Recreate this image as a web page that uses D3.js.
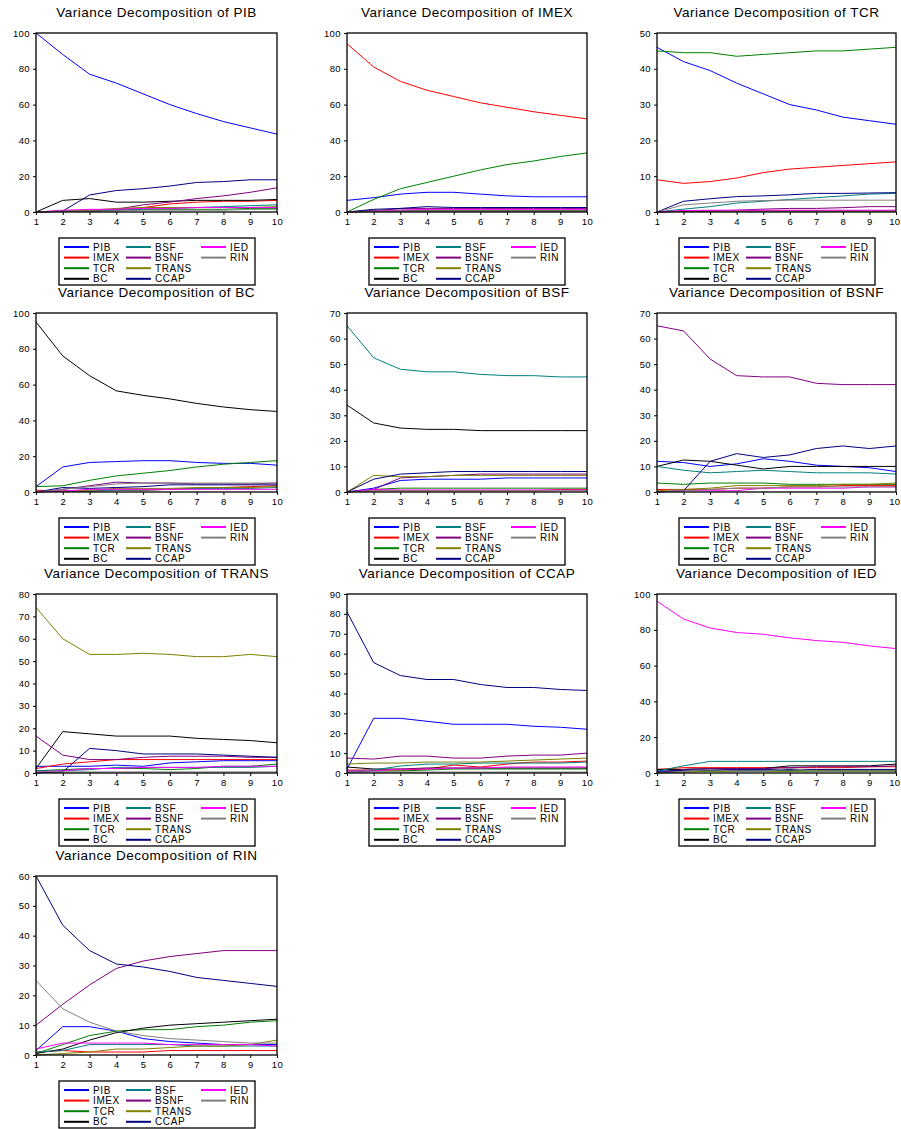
<!DOCTYPE html>
<html>
<head>
<meta charset="utf-8">
<script src="https://cdn.jsdelivr.net/npm/d3@7"></script>
<style>
  body { margin: 0; background: #fff; }
  text { font-family: "Liberation Sans", Arial, sans-serif; fill: #000; }
</style>
</head>
<body>
<div id="chart"></div>
<script>
// Horizontes y variables
const horizons = [1, 2, 3, 4, 5, 6, 7, 8, 9, 10];
const shocks = ["PIB", "IMEX", "TCR", "BC", "BSF", "BSNF", "TRANS", "CCAP", "IED", "RIN"];
const shockColors = ["#0000ff", "#ff0000", "#008000", "#000000", "#008080",
                     "#800080", "#808000", "#000080", "#ff00ff", "#808080"];
const responses = ["PIB", "IMEX", "TCR", "BC", "BSF", "BSNF", "TRANS", "CCAP", "IED", "RIN"];

// Marcas del eje Y de cada panel
const yTicks = [
  [0, 20, 40, 60, 80, 100],
  [0, 20, 40, 60, 80, 100],
  [0, 10, 20, 30, 40, 50],
  [0, 20, 40, 60, 80, 100],
  [0, 10, 20, 30, 40, 50, 60, 70],
  [0, 10, 20, 30, 40, 50, 60, 70],
  [0, 10, 20, 30, 40, 50, 60, 70, 80],
  [0, 10, 20, 30, 40, 50, 60, 70, 80, 90],
  [0, 20, 40, 60, 80, 100],
  [0, 10, 20, 30, 40, 50, 60]
];

// Descomposición de varianza (filas en el orden de "shocks")
const vdPIB = [
  [100, 88, 77, 72, 66, 60, 55, 50.5, 47, 43.5],
  [0, 0.3, 0.5, 1, 2.5, 4.5, 5.5, 6, 6, 6.5],
  [0, 0.5, 1, 1.5, 1.5, 1.5, 1.5, 1.5, 2, 2],
  [0, 6.5, 7.5, 5.5, 5.5, 6, 6.5, 6.5, 6.5, 7],
  [0, 0.3, 0.5, 1, 1.5, 2, 2.5, 3, 3.5, 4],
  [0, 0.5, 1, 1.5, 4, 5.5, 7.5, 9, 11, 13.5],
  [0, 0.5, 1, 2, 2.5, 2.5, 2.5, 2.5, 2.5, 3],
  [0, 0.5, 9.5, 12, 13, 14.5, 16.5, 17, 18, 18],
  [0, 1, 1.5, 1.5, 2, 2, 2.5, 2.5, 2.5, 2.5],
  [0, 0.5, 0.5, 0.5, 1, 1, 1, 1, 1.5, 1.5]
];
const vdIMEX = [
  [6.5, 8, 10, 11, 11, 10, 9, 8.5, 8.5, 8.5],
  [94, 81, 73, 68, 64.5, 61, 58.5, 56, 54, 52],
  [0, 7, 13, 16.5, 20, 23.5, 26.5, 28.5, 31, 33],
  [0, 1, 1, 1, 1, 1, 1, 1, 1, 1],
  [0, 0.3, 0.5, 0.5, 0.5, 0.5, 0.5, 0.5, 0.5, 0.5],
  [0, 0.5, 2, 2, 2, 2, 2, 2, 2, 2],
  [0, 0.3, 0.5, 0.5, 0.5, 0.5, 0.5, 0.5, 0.5, 0.5],
  [0, 1.5, 2, 3, 2.5, 2.5, 2.5, 2.5, 2.5, 2.5],
  [0, 0.5, 1, 1.5, 1.5, 1.5, 1.5, 1.5, 1.5, 1.5],
  [0, 0.5, 0.5, 0.5, 0.5, 0.5, 0.5, 0.5, 0.5, 0.5]
];
const vdTCR = [
  [46, 42, 39.5, 36, 33, 30, 28.5, 26.5, 25.5, 24.5],
  [9, 8, 8.5, 9.5, 11, 12, 12.5, 13, 13.5, 14],
  [45, 44.5, 44.5, 43.5, 44, 44.5, 45, 45, 45.5, 46],
  [0, 0.2, 0.3, 0.3, 0.3, 0.3, 0.3, 0.3, 0.3, 0.3],
  [0, 0.8, 1.5, 2.5, 3, 3.5, 4, 4.5, 5, 5.2],
  [0, 0.3, 0.3, 0.5, 0.8, 1, 1, 1.2, 1.5, 1.5],
  [0, 0.2, 0.3, 0.3, 0.3, 0.3, 0.3, 0.3, 0.3, 0.3],
  [0, 3, 3.7, 4.3, 4.5, 4.8, 5.2, 5.2, 5.3, 5.4],
  [0, 0.4, 0.5, 0.5, 0.5, 0.5, 0.5, 0.5, 0.5, 0.5],
  [0, 2, 2.5, 3, 3.2, 3.3, 3.3, 3.3, 3.3, 3.3]
];
const vdBC = [
  [3, 14, 16.5, 17, 17.5, 17.5, 16.5, 16, 16, 15],
  [1, 0.5, 0.5, 1, 1, 1.5, 2, 2.5, 3, 3.5],
  [3, 3.5, 6.5, 9, 10.5, 12, 14, 15.5, 16.5, 17.5],
  [95, 76, 65, 56.5, 54, 52, 49.5, 47.5, 46, 45],
  [0, 0.5, 0.5, 1, 1, 1.5, 2, 2, 2, 2.5],
  [0, 1.5, 3.5, 5.5, 5, 5, 4.5, 4.5, 4.5, 5],
  [0, 0.5, 1, 2, 2, 2, 2.5, 2.5, 2.5, 3],
  [0, 2.5, 2, 2.5, 3, 4, 4, 4, 4, 4],
  [0, 0.5, 1.5, 1.5, 1.5, 1.5, 1.5, 1.5, 1.5, 1.5],
  [0, 1.5, 3, 4.5, 5, 5, 5, 5, 5, 5]
];
const vdBSF = [
  [0, 1.5, 4.5, 5, 5, 5, 5.5, 5.5, 5.5, 5.5],
  [0, 0.5, 0.5, 0.5, 0.5, 0.5, 0.5, 0.5, 1, 1],
  [0, 1, 1.5, 1.5, 1.5, 1.5, 1.5, 1.5, 1.5, 1.5],
  [34, 27, 25, 24.5, 24.5, 24, 24, 24, 24, 24],
  [65, 52.5, 48, 47, 47, 46, 45.5, 45.5, 45, 45],
  [0, 1, 5.5, 6, 6.5, 7, 7, 7, 7, 7],
  [0, 6.5, 6, 6, 6.5, 6.5, 6.5, 6.5, 6.5, 6.5],
  [0, 5, 7, 7.5, 8, 8, 8, 8, 8, 8],
  [0, 1, 0.8, 0.8, 0.8, 0.8, 0.8, 0.8, 0.8, 0.8],
  [0, 0.5, 0.5, 0.5, 0.5, 0.5, 0.5, 0.5, 0.5, 0.5]
];
const vdBSNF = [
  [12, 11.5, 10, 11, 13, 12, 10.5, 10, 9.5, 8],
  [1, 1, 1, 1.5, 1.5, 2, 2, 2.5, 2.5, 2.5],
  [3.5, 3, 3.5, 3.5, 3.5, 3, 3, 3, 3, 3],
  [10, 12.5, 12, 10.5, 9, 10, 10, 10, 10, 10],
  [10, 8.5, 7.5, 8, 8.5, 8, 7.5, 7.5, 7.5, 7],
  [65, 63, 52, 45.5, 45, 45, 42.5, 42, 42, 42],
  [0.5, 1, 1.5, 2.5, 2.5, 2.5, 2.5, 3, 3, 3.5],
  [0, 0.5, 12, 15, 13.5, 14.5, 17, 18, 17, 18],
  [0, 0.5, 0.5, 0.5, 1.5, 1.5, 1.5, 1.5, 2, 2],
  [0, 0.5, 1, 1.5, 1.5, 2, 2, 2, 2, 2]
];
const vdTRANS = [
  [3, 3, 3, 3.5, 3, 4.5, 5, 5.5, 5.5, 5.5],
  [2, 4, 5, 6, 6, 6, 6, 6, 6, 6],
  [1, 1.5, 2, 2, 2, 1.5, 2, 3, 3, 4],
  [2, 18.5, 17.5, 16.5, 16.5, 16.5, 15.5, 15, 14.5, 13.5],
  [1, 1, 1.5, 2.5, 2.5, 2.5, 2.5, 2.5, 2.5, 3],
  [16.5, 8, 6, 6, 7, 7.5, 7.5, 7.5, 7, 7],
  [74, 60, 53, 53, 53.5, 53, 52, 52, 53, 52],
  [0, 0.5, 11, 10, 8.5, 8.5, 8.5, 8, 7.5, 7],
  [0.5, 1, 2, 2, 2.5, 2.5, 2.5, 3, 3, 3],
  [0.5, 0.5, 0.5, 0.5, 0.5, 0.5, 0.5, 0.5, 0.5, 0.5]
];
const vdCCAP = [
  [2, 27.5, 27.5, 26, 24.5, 24.5, 24.5, 23.5, 23, 22],
  [1.5, 1.5, 1.5, 2, 4, 3, 4.5, 5.5, 5.5, 6],
  [0.5, 1, 1, 1.5, 2, 2, 2, 2, 2, 2],
  [3, 2, 2, 2.5, 2.5, 2.5, 2.5, 2.5, 2.5, 2.5],
  [1, 1.5, 3.5, 4.5, 4.5, 5, 5, 5, 5, 5.5],
  [7.5, 7, 8.5, 8.5, 7.5, 7.5, 8.5, 9, 9, 10],
  [4.5, 5, 5, 5.5, 5.5, 5.5, 6, 6.5, 7, 7.5],
  [81, 55.5, 49, 47, 47, 44.5, 43, 43, 42, 41.5],
  [1, 1, 2, 2, 2.5, 2.5, 3, 3, 3, 3],
  [0.3, 0.5, 0.5, 0.5, 0.5, 0.5, 0.5, 0.5, 0.5, 0.5]
];
const vdIED = [
  [0.5, 1, 1.5, 1.5, 1.5, 1.5, 1.5, 1.5, 1.5, 1.5],
  [2, 3, 3, 3, 3, 3, 3, 3, 3.5, 3.5],
  [2, 1.5, 1, 1, 1, 1, 1, 1, 1, 1],
  [2, 2, 2.5, 2.5, 2.5, 4, 4, 4, 4, 5],
  [1, 4, 6.5, 6.5, 6.5, 6.5, 6.5, 6.5, 6.5, 6.5],
  [0, 2, 2.5, 2.5, 2.5, 3, 3.5, 3.5, 3.5, 4],
  [0, 0.5, 1, 1, 1, 1, 1.5, 1.5, 1.5, 1.5],
  [1, 1.5, 2, 2, 2, 2, 2, 2, 2, 2],
  [96, 86, 81, 78.5, 77.5, 75.5, 74, 73, 71, 69.5],
  [0, 1, 2, 1, 1, 2.5, 1, 1, 1, 1]
];
const vdRIN = [
  [1.5, 9.5, 9.5, 8, 5.5, 4.5, 4, 3.5, 3.5, 3.5],
  [1, 1.5, 1, 1, 1, 1.5, 1.5, 1.5, 1.5, 1.5],
  [0.5, 3.5, 6.5, 8, 8.5, 8.5, 9.5, 10, 11, 11.5],
  [0.5, 2, 5, 7.5, 9, 10, 10.5, 11, 11.5, 12],
  [1, 1.5, 3.5, 3.5, 3.5, 3.5, 3, 3, 3, 3],
  [10, 17, 23.5, 29, 31.5, 33, 34, 35, 35, 35],
  [0, 0.5, 1, 2, 2, 2.5, 3, 3, 3.5, 5],
  [60, 43.5, 35, 30.5, 29.5, 28, 26, 25, 24, 23],
  [2, 4, 4, 4, 4, 3.5, 3.5, 3.5, 3.5, 3],
  [25, 15.5, 11, 8, 6.5, 5.5, 5, 4.5, 4, 4]
];
const panels = [vdPIB, vdIMEX, vdTCR, vdBC, vdBSF, vdBSNF, vdTRANS, vdCCAP, vdIED, vdRIN];

// Disposición de la cuadrícula
const colLeft = [36, 347, 657];
const colRight = [277, 587, 896];
const rowTop = [33, 313, 594, 876];
const plotH = 179;

const svg = d3.select("#chart")
  .append("svg")
  .attr("width", 901)
  .attr("height", 1129);

responses.forEach((name, p) => {
  const col = p % 3, row = Math.floor(p / 3);
  const left = colLeft[col], right = colRight[col];
  const top = rowTop[row], bottom = top + plotH;
  const ticks = yTicks[p];

  const x = d3.scaleLinear().domain([1, 10]).range([left, right]);
  const y = d3.scaleLinear().domain([0, d3.max(ticks)]).range([bottom, top]);

  const g = svg.append("g");

  // Título
  g.append("text")
    .attr("x", (left + right) / 2)
    .attr("y", top - 16)
    .attr("text-anchor", "middle")
    .style("font-size", "13.5px")
    .style("letter-spacing", "0.5px")
    .text("Variance Decomposition of " + name);

  // Ejes
  const yAxis = g.append("g")
    .attr("transform", `translate(${left},0)`)
    .call(d3.axisLeft(y).tickValues(ticks).tickSize(3).tickPadding(3));
  const xAxis = g.append("g")
    .attr("transform", `translate(0,${bottom})`)
    .call(d3.axisBottom(x).tickValues(horizons).tickSize(3).tickPadding(3));
  [yAxis, xAxis].forEach(a => {
    a.select(".domain").remove();
    a.selectAll("text")
      .style("font-size", "9.5px")
      .style("letter-spacing", "0.4px")
      .style("font-family", "'Liberation Sans', Arial, sans-serif");
  });
  // La última etiqueta de la columna derecha no debe salirse del lienzo
  if (col === 2) {
    xAxis.selectAll(".tick").filter(d => d === 10).select("text")
      .attr("text-anchor", "end")
      .attr("x", 4);
  }

  // Líneas
  const line = d3.line()
    .x((d, i) => x(horizons[i]))
    .y(d => y(d));

  panels[p].forEach((vals, s) => {
    g.append("path")
      .attr("d", line(vals))
      .attr("fill", "none")
      .attr("stroke", shockColors[s])
      .attr("stroke-width", 1);
  });

  // Marco
  g.append("rect")
    .attr("x", left).attr("y", top)
    .attr("width", right - left).attr("height", plotH)
    .attr("fill", "none")
    .attr("stroke", "#000")
    .attr("stroke-width", 1.3);

  // Leyenda
  const lgW = 196, lgH = 47;
  const lgX = Math.round((left + right) / 2 - lgW / 2);
  const lgY = bottom + 26;
  const lg = g.append("g").attr("transform", `translate(${lgX},${lgY})`);
  lg.append("rect")
    .attr("width", lgW).attr("height", lgH)
    .attr("fill", "#fff").attr("stroke", "#000").attr("stroke-width", 1.3);

  const colX = [5, 67, 142];
  shocks.forEach((s, i) => {
    const c = Math.floor(i / 4), r = i % 4;
    const cy = 9 + r * 10.6;
    lg.append("line")
      .attr("x1", colX[c]).attr("x2", colX[c] + 25)
      .attr("y1", cy).attr("y2", cy)
      .attr("stroke", shockColors[i])
      .attr("stroke-width", 2);
    lg.append("text")
      .attr("x", colX[c] + 29)
      .attr("y", cy + 3.6)
      .style("font-size", "10px")
      .style("letter-spacing", "0.6px")
      .text(s);
  });
});
</script>
</body>
</html>
